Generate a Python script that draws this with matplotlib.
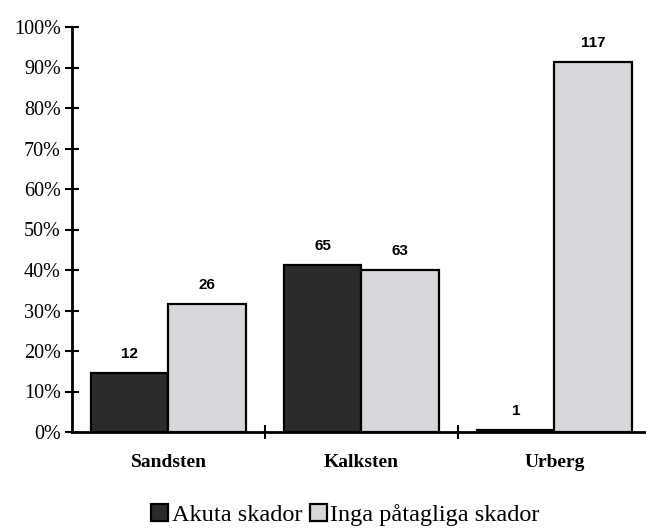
import numpy as np
import matplotlib.pyplot as plt
from matplotlib.ticker import PercentFormatter

# rock types and the two damage groups (percent share, count on top)
categories = ['Sandsten', 'Kalksten', 'Urberg']
akuta_pct = [14.6, 41.2, 0.5]
inga_pct = [31.6, 40.0, 91.4]
akuta_n = [12, 65, 1]
inga_n = [26, 63, 117]
series_names = ['Akuta skador', 'Inga påtagliga skador']

serif = ['Liberation Serif', 'DejaVu Serif']

fig = plt.figure(figsize=(6.46, 5.30), dpi=100)
ax = fig.add_axes([72 / 646, 98 / 530, 574 / 646, 405 / 530])

x = np.arange(len(categories))
w = 0.40
b1 = ax.bar(x - w / 2, akuta_pct, w, color='#2b2b2b', edgecolor='black', linewidth=1.6,
            label=series_names[0])
b2 = ax.bar(x + w / 2, inga_pct, w, color='#d6d7da', edgecolor='black', linewidth=1.6,
            label=series_names[1])

for bars, counts in [(b1, akuta_n), (b2, inga_n)]:
    for rect, n in zip(bars, counts):
        ax.annotate(str(n), (rect.get_x() + rect.get_width() / 2, rect.get_height()),
                    xytext=(0, 8.5), textcoords='offset points', ha='center', va='bottom',
                    fontsize=11, fontweight='bold', family=['Liberation Sans', 'DejaVu Sans'])

ax.set_ylim(0, 100)
ax.set_xlim(-0.5, 2.475)
ax.set_yticks(np.arange(0, 101, 10))
ax.yaxis.set_major_formatter(PercentFormatter(decimals=0))
ax.tick_params(axis='y', direction='inout', length=10, width=1.5, labelsize=14.5, pad=3)

# category names between boundary ticks
ax.set_xticks([0.5, 1.5])
ax.set_xticklabels([])
ax.set_xticks(x, minor=True)
ax.set_xticklabels(categories, minor=True, fontsize=14, family=serif, fontweight='bold')
ax.tick_params(axis='x', which='major', direction='inout', length=10, width=1.5)
ax.tick_params(axis='x', which='minor', length=0, pad=16)

for lab in ax.get_yticklabels():
    lab.set_family(serif)

for s in ['top', 'right']:
    ax.spines[s].set_visible(False)
ax.spines['left'].set_linewidth(2)
ax.spines['bottom'].set_linewidth(2)

fig.legend(loc='center', bbox_to_anchor=(0.535, 0.028), ncol=2, frameon=False,
           handlelength=0.7, handleheight=0.7, handletextpad=0.15, columnspacing=0.3,
           prop={'family': serif, 'size': 17.5})

fig.savefig('out.png', dpi=100)
